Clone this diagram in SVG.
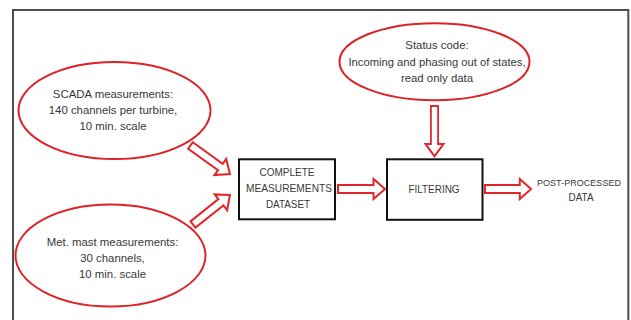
<svg xmlns="http://www.w3.org/2000/svg" width="631" height="320" viewBox="0 0 631 320">
  <style>
    .frame { fill: none; stroke: #4d4d4d; stroke-width: 2; }
    .oval { fill: #ffffff; stroke: #dd2326; stroke-width: 2; }
    .box { fill: #ffffff; stroke: #111111; stroke-width: 2; }
    .arrow { fill: #ffffff; stroke: #e2262a; stroke-width: 2; stroke-linejoin: miter; }
    text { font-family: "Liberation Sans", Arial, sans-serif; fill: #383838; text-anchor: middle; }
    .lbl { font-size: 11.4px; }
    .cap { font-size: 11.4px; }
    .cap-sm { font-size: 9.8px; }
  </style>
  <defs>
    <!-- block arrow, 47 long, pointing along +x from the origin -->
    <path id="blk" d="M0,-4 H35.5 V-10 L47,0 L35.5,10 V4 H0 Z"/>
  </defs>

  <rect width="631" height="320" fill="#ffffff"/>
  <!-- outer frame, open at the bottom -->
  <path class="frame" d="M13,322 V10 H628.3 V322"/>

  <g id="scada">
    <ellipse class="oval" cx="114.5" cy="110.5" rx="96" ry="48.5"/>
    <text class="lbl" x="113" y="98.2">SCADA measurements:</text>
    <text class="lbl" x="113" y="114">140 channels per turbine,</text>
    <text class="lbl" x="113" y="130">10 min. scale</text>
  </g>

  <g id="metmast">
    <ellipse class="oval" cx="110.5" cy="255.5" rx="95" ry="51"/>
    <text class="lbl" x="112.5" y="245.6">Met. mast measurements:</text>
    <text class="lbl" x="112.5" y="261.6">30 channels,</text>
    <text class="lbl" x="112.5" y="278">10 min. scale</text>
  </g>

  <g id="status">
    <ellipse class="oval" cx="434.5" cy="61.7" rx="95" ry="38.5"/>
    <text class="lbl" x="437" y="49">Status code:</text>
    <text class="lbl" x="437" y="65.6" textLength="177" lengthAdjust="spacingAndGlyphs">Incoming and phasing out of states,</text>
    <text class="lbl" x="437" y="81.6">read only data</text>
  </g>

  <g id="dataset">
    <rect class="box" x="239" y="159.3" width="96" height="60"/>
    <text class="cap" x="287" y="175.8" textLength="55" lengthAdjust="spacingAndGlyphs">COMPLETE</text>
    <text class="cap" x="289" y="191.8" textLength="86" lengthAdjust="spacingAndGlyphs">MEASUREMENTS</text>
    <text class="cap" x="288" y="207.5" textLength="44" lengthAdjust="spacingAndGlyphs">DATASET</text>
  </g>

  <g id="filtering">
    <rect class="box" x="387" y="159.3" width="95.5" height="60.5"/>
    <text class="cap" x="434" y="193.2" textLength="51" lengthAdjust="spacingAndGlyphs">FILTERING</text>
  </g>

  <g id="output">
    <text class="cap-sm" x="579" y="185.6" textLength="84" lengthAdjust="spacingAndGlyphs">POST-PROCESSED</text>
    <text class="cap" x="581" y="201" textLength="25" lengthAdjust="spacingAndGlyphs">DATA</text>
  </g>

  <g id="connectors">
    <!-- SCADA to dataset -->
    <use href="#blk" class="arrow" transform="translate(190.5,145.5) rotate(35.8) scale(1.036,1)"/>
    <!-- met mast to dataset -->
    <use href="#blk" class="arrow" transform="translate(193,224.5) rotate(-38.6) scale(1.006,1)"/>
    <!-- dataset to filtering -->
    <use href="#blk" class="arrow" transform="translate(338,189)"/>
    <!-- filtering to output -->
    <use href="#blk" class="arrow" transform="translate(485,189) scale(0.98,1)"/>
    <!-- status code down to filtering -->
    <use href="#blk" class="arrow" transform="translate(434.5,106) rotate(90) scale(1.07,0.9)"/>
  </g>
</svg>
